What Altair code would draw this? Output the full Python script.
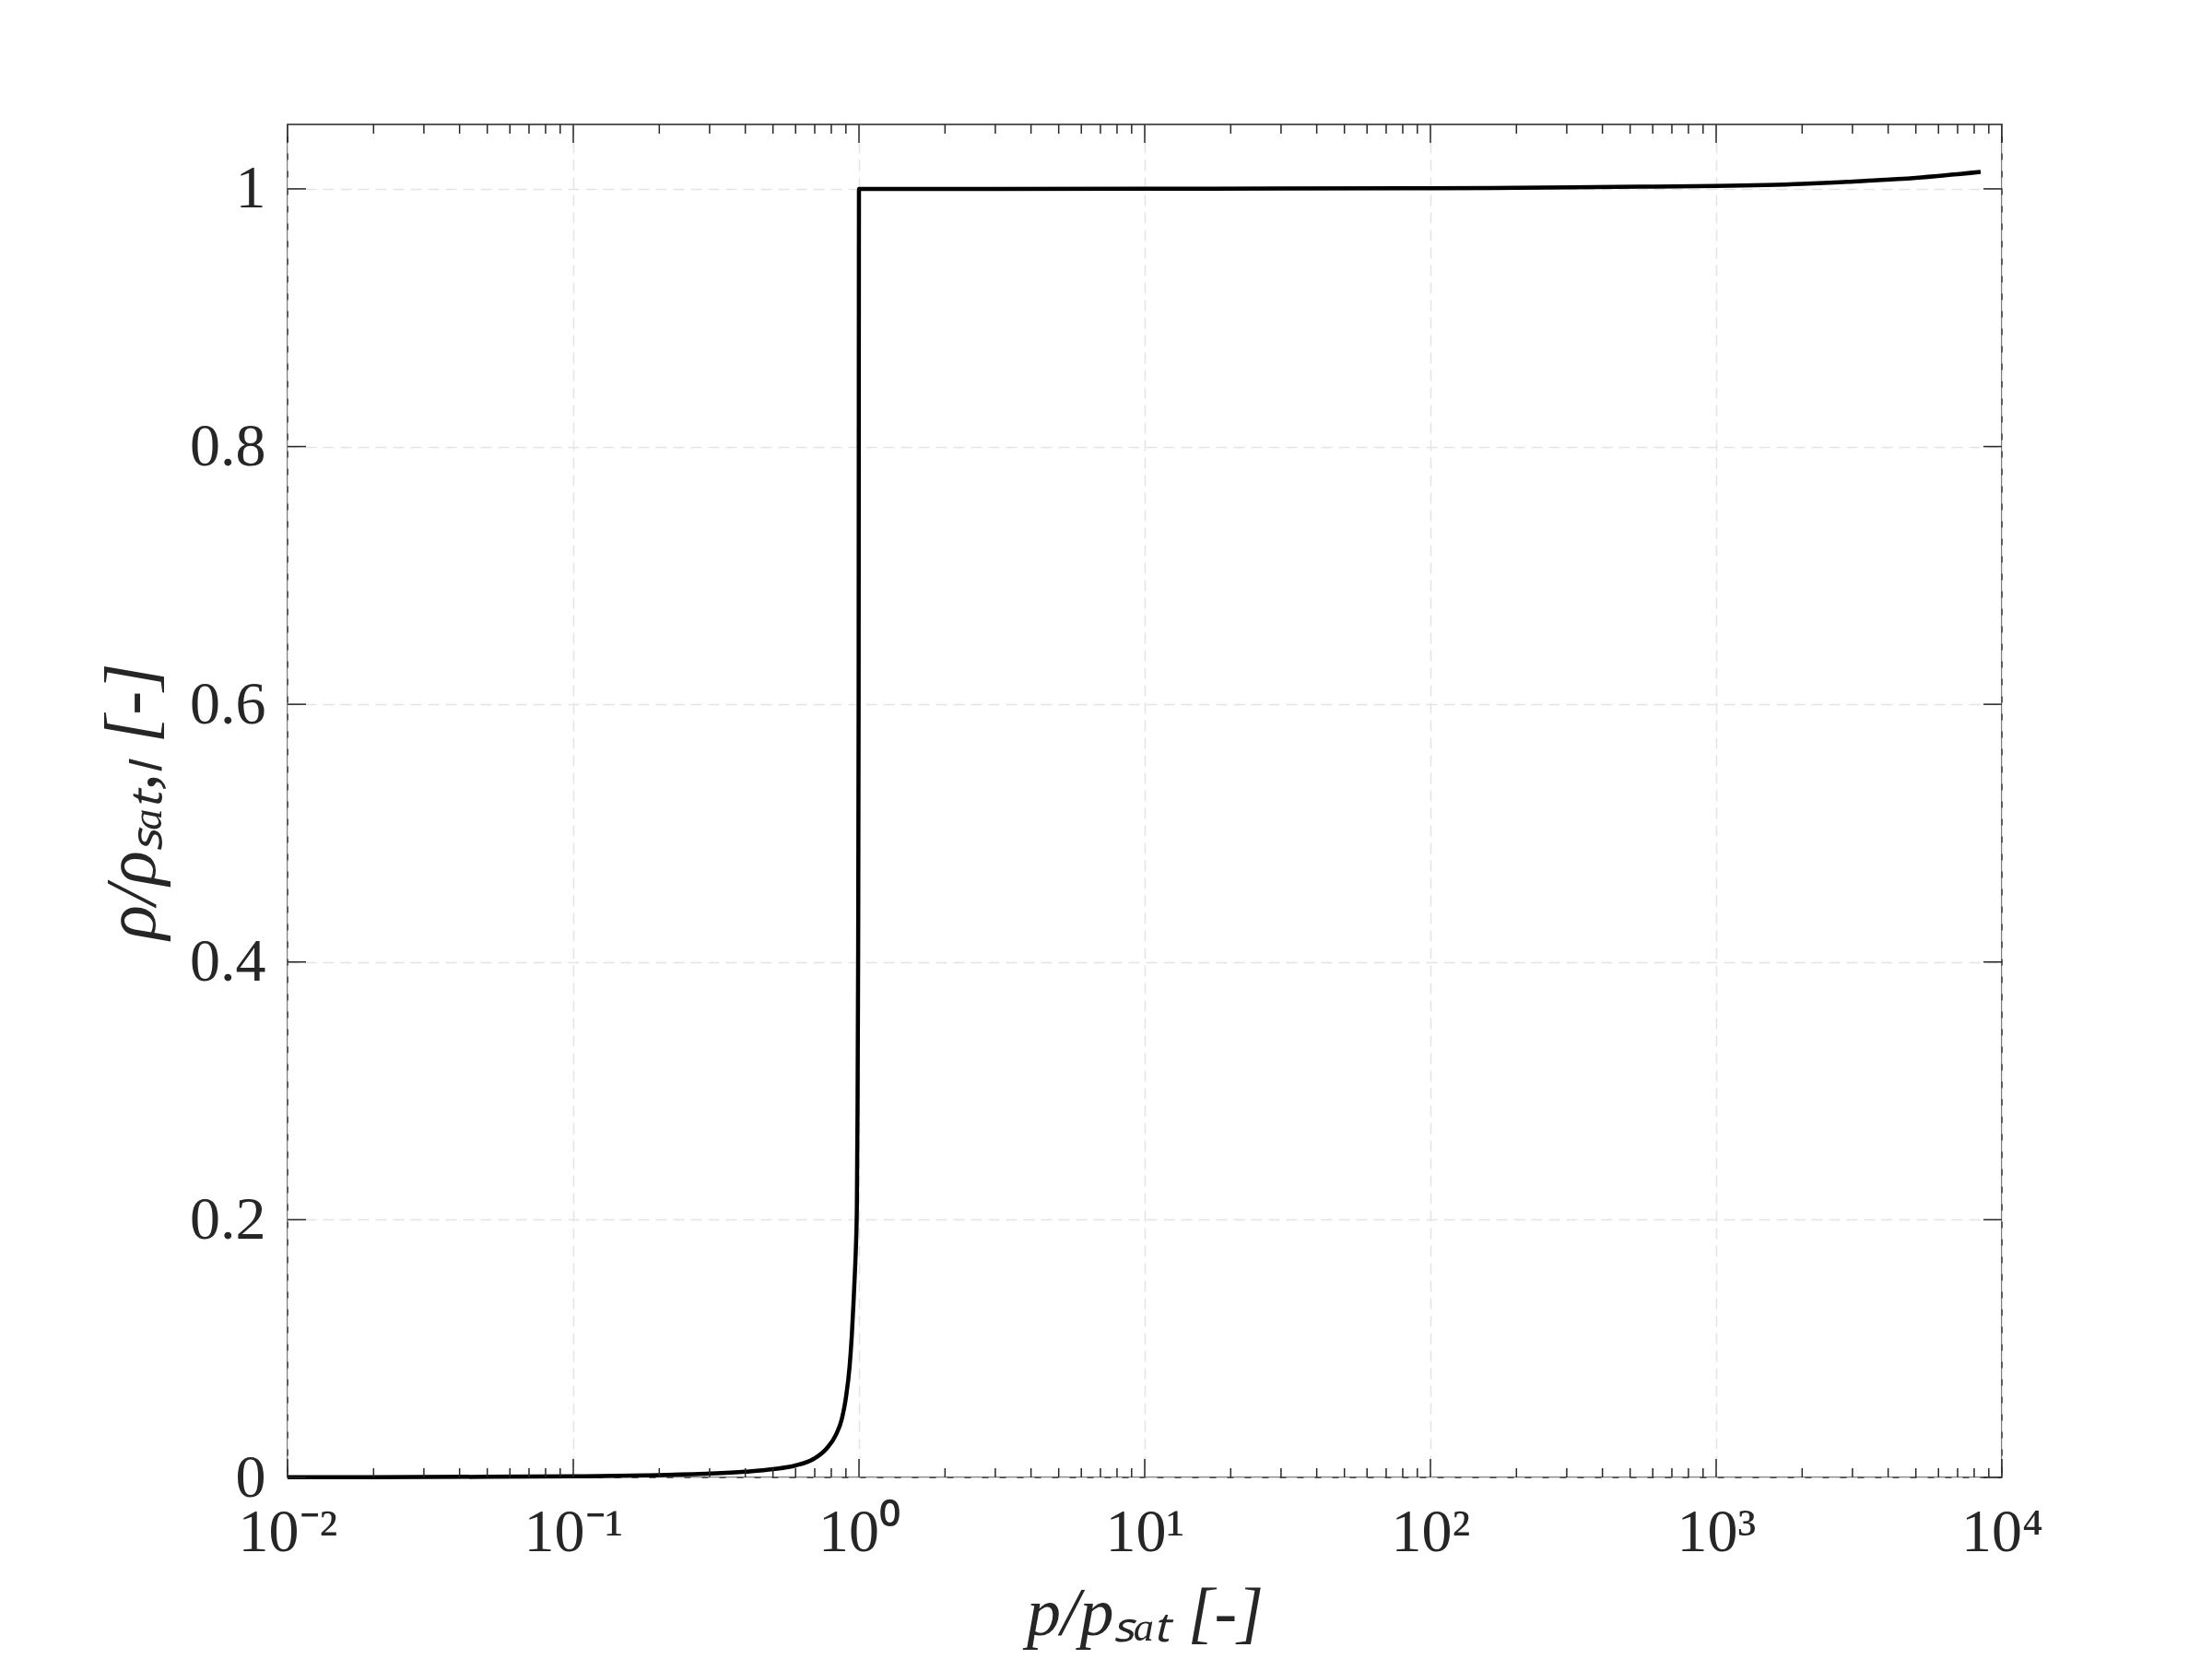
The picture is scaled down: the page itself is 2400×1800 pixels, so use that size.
import altair as alt
import pandas as pd

# ---- data ----
p_ratio = [0.01, 0.02, 0.05, 0.1, 0.18, 0.3, 0.4, 0.5, 0.6, 0.695, 0.77, 0.83, 0.87,
           0.90, 0.927, 0.943, 0.957, 0.968, 0.976, 0.983, 0.988, 0.993, 0.997, 1.0,
           1.3, 3, 10, 30, 100, 200, 445, 1000, 2000, 2880, 5000, 8430]
rho_ratio = [0.0001, 0.0002, 0.0005, 0.0009, 0.0016, 0.0030, 0.0045, 0.0064, 0.0093, 0.0145,
             0.0224, 0.033, 0.045, 0.062, 0.086, 0.109, 0.136, 0.16, 0.18, 0.21, 0.28, 0.40,
             0.60, 1.0, 1.0, 1.0, 1.0001, 1.0003, 1.0005, 1.0008, 1.0016, 1.0022, 1.0038,
             1.0055, 1.0085, 1.0131]

x_major = [1e-2, 1e-1, 1e0, 1e1, 1e2, 1e3, 1e4]
x_major_labels = ["10⁻²", "10⁻¹", "10⁰", "10¹", "10²", "10³", "10⁴"]
x_minor = [m * 10.0 ** e for e in range(-2, 4) for m in range(2, 10)]
y_major = [0, 0.2, 0.4, 0.6, 0.8, 1.0]

x_title = "p/pₛₐₜ  [-]"
y_title = "ρ/ρₛₐₜ,ₗ  [-]"

W, H = 1860, 1468
FONT = "Liberation Serif"
INK = "#262626"

curve = pd.DataFrame({"p": p_ratio, "r": rho_ratio})
major_df = pd.DataFrame({"p": x_major})
minor_df = pd.DataFrame({"p": x_minor})
ymaj_df = pd.DataFrame({"r": y_major})

label_expr = "[" + ",".join("'" + s + "'" for s in x_major_labels) + "][round(log(datum.value)/LN10)+2]"

xscale = alt.Scale(type="log", domain=[1e-2, 1e4], nice=False)
yscale = alt.Scale(domain=[0, 1.05], nice=False, zero=False)

line = alt.Chart(curve).mark_line(color="black", strokeWidth=4.5, interpolate="monotone").encode(
    x=alt.X("p:Q", scale=xscale, title=x_title,
            axis=alt.Axis(values=x_major, labelExpr=label_expr, ticks=False, tickSize=0,
                          domain=False, grid=True, gridDash=[12, 7], gridColor="#e4e4e4",
                          gridWidth=1.5, labelFont=FONT, labelFontSize=66, labelColor=INK,
                          labelPadding=27, labelFlush=False, labelOverlap=False,
                          titleFont=FONT, titleFontSize=74, titleFontStyle="italic",
                          titleFontWeight="normal", titleColor=INK, titlePadding=20)),
    y=alt.Y("r:Q", scale=yscale, title=y_title,
            axis=alt.Axis(values=y_major, format="~g", ticks=False, tickSize=0,
                          domain=False, grid=True, gridDash=[12, 7], gridColor="#e4e4e4",
                          gridWidth=1.5, labelFont=FONT, labelFontSize=66, labelColor=INK,
                          labelPadding=24, labelFlush=False, labelOverlap=False,
                          titleFont=FONT, titleFontSize=78, titleFontStyle="italic",
                          titleFontWeight="normal", titleColor=INK, titlePadding=22)),
)

rule_style = dict(color=INK, strokeWidth=1.5)

bot_major = alt.Chart(major_df).mark_rule(**rule_style).encode(
    x="p:Q", y=alt.value(H), y2=alt.value(H - 20))
bot_minor = alt.Chart(minor_df).mark_rule(**rule_style).encode(
    x="p:Q", y=alt.value(H), y2=alt.value(H - 10))
top_major = alt.Chart(major_df).mark_rule(**rule_style).encode(
    x="p:Q", y=alt.value(0), y2=alt.value(20))
top_minor = alt.Chart(minor_df).mark_rule(**rule_style).encode(
    x="p:Q", y=alt.value(0), y2=alt.value(10))
left_major = alt.Chart(ymaj_df).mark_rule(**rule_style).encode(
    y="r:Q", x=alt.value(0), x2=alt.value(20))
right_major = alt.Chart(ymaj_df).mark_rule(**rule_style).encode(
    y="r:Q", x=alt.value(W), x2=alt.value(W - 20))

chart = alt.layer(line, bot_major, bot_minor, top_major, top_minor, left_major, right_major).properties(
    width=W, height=H,
    autosize=alt.AutoSizeParams(type="none"),
    padding={"left": 304, "top": 127, "right": 200, "bottom": 189},
    background="white",
).configure_view(stroke=INK, strokeWidth=1.5)

chart.save("out.html", embed_options={"renderer": "svg", "actions": False})
